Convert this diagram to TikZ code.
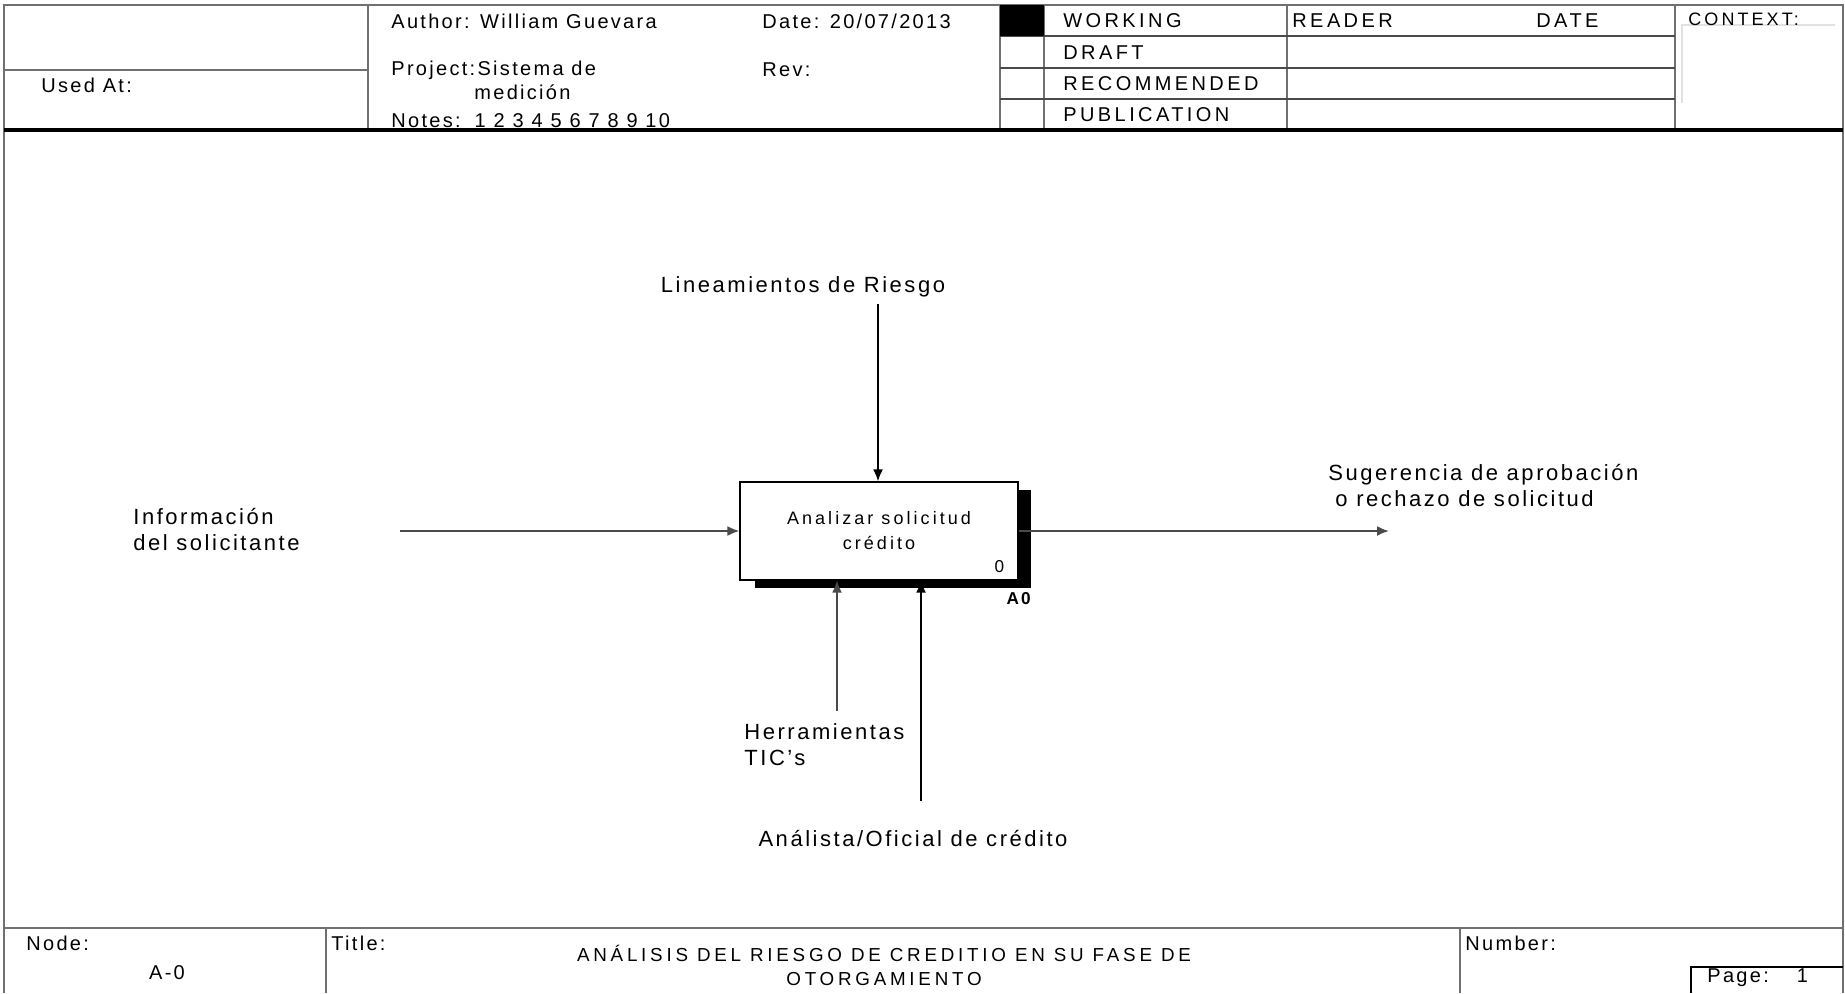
\documentclass[tikz,border=0pt]{standalone}
\usepackage{fontspec}
\setmainfont{Liberation Sans}
\newfontfamily\idefFont[LetterSpace=11.5]{Liberation Sans}
\newfontfamily\idefWide[LetterSpace=17]{Liberation Sans}
\newfontfamily\idefTitle[LetterSpace=20]{Liberation Sans}
\usepackage{tikz}
\usetikzlibrary{positioning, arrows.meta}
\definecolor{frameGray}{HTML}{707070}
\definecolor{lineGray}{HTML}{4A4A4A}
\definecolor{softGray}{HTML}{E2E2E2}

\begin{document}
\begin{tikzpicture}[
  x=0.5pt, y=-0.5pt,
  every node/.style={inner sep=0pt, text=black},
  hdr/.style={font=\idefFont\fontsize{10}{12}\selectfont, anchor=west},
  stat/.style={font=\idefWide\fontsize{10}{12}\selectfont, anchor=west},
  lbl/.style={font=\idefFont\fontsize{11}{13}\selectfont, align=left},
  tiny/.style={font=\idefFont\fontsize{8.6}{12}\selectfont},
  foot/.style={font=\idefFont\fontsize{10}{12}\selectfont},
  frm/.style={draw=frameGray, line width=0.8pt},
  rowline/.style={draw=lineGray, line width=0.8pt},
  act/.style={rectangle, draw=black, line width=0.6pt, fill=white,
              minimum width=139pt, minimum height=49pt, align=center,
              font=\idefWide\fontsize{9}{12.5}\selectfont},
  flow/.style={draw=lineGray, line width=1pt, -{Latex[length=6pt,width=5pt]}},
]
  \useasboundingbox (0,0) rectangle (1845,993);

  % form frame and header grid
  \draw[frm] (4,993) -- (4,5) -- (1843,5) -- (1843,993);
  \draw[frm] (4,70) -- (368,70);
  \foreach \xx in {368,1000,1044,1287,1675}
    \draw[frm] (\xx,5) -- (\xx,130);
  \foreach \yy in {36,68,99}
    \draw[rowline] (1000,\yy) -- (1675,\yy);
  \fill[black] (1000,5) rectangle (1044,36);
  \draw[softGray, line width=1pt] (1682,103) -- (1682,25) -- (1835,25);
  \draw[black, line width=1.6pt] (4,130) -- (1843,130);

  \node[hdr] (usedAt) at (41,85) {Used At:};
  \node[hdr] (author) at (391,21) {Author: William Guevara};
  \node[hdr] (date) at (762,21) {Date: 20/07/2013};
  \node[hdr] (project) at (391,70) {Project:Sistema de};
  \node[hdr] (project2) at (474,92) {medición};
  \node[hdr] (rev) at (762,70) {Rev:};
  \node[hdr] (notes) at (391,121) {Notes:\hspace{7pt}1 2 3 4 5 6 7 8 9 10};

  \node[stat] (working) at (1063,21) {WORKING};
  \node[stat] (draft) at (1063,53) {DRAFT};
  \node[stat] (recom) at (1063,84) {RECOMMENDED};
  \node[stat] (publ) at (1063,115) {PUBLICATION};
  \node[stat] (reader) at (1292,21) {READER};
  \node[stat] (rdate) at (1536,21) {DATE};
  \node[stat, font=\idefWide\fontsize{9}{11}\selectfont] (context) at (1688,19) {CONTEXT:};

  % activity box with its shadow
  \fill[black] (1018,490) rectangle (1031,588);
  \fill[black] (755,580) rectangle (1031,588);

  \coordinate (ctrlS) at (878,304);
  \coordinate (inS) at (400,531);
  \coordinate (outE) at (1389,531);
  \coordinate (m1S) at (837,711);
  \coordinate (m2S) at (921,801);

  \node[act] (A0) at (879,531) {Analizar solicitud\\crédito};
  \node[tiny, above left=4pt and 7pt of A0.south east, anchor=south east] (boxNum) {0};
  \node[tiny, font=\idefFont\bfseries\fontsize{8.6}{12}\selectfont, anchor=north east]
        (boxRef) at (1031,592) {A0};

  \draw[flow, draw=black] (ctrlS) -- (ctrlS |- A0.north);
  \draw[flow] (inS) -- (A0.west);
  \draw[flow] (A0.east) -- (outE);
  \draw[flow] (m1S) -- (m1S |- A0.south);
  \draw[flow, draw=black] (m2S) -- (m2S |- A0.south);

  \node[lbl, anchor=center] (ctrl) at (803,287) {Lineamientos de Riesgo};
  \node[lbl, anchor=west] (inp) at (133,529) {Información\\del solicitante};
  \node[lbl, anchor=west] (out) at (1328,485) {Sugerencia de aprobación\\\hspace{3.5pt}o rechazo de solicitud};
  \node[lbl, anchor=west] (mech1) at (744,745) {Herramientas\\TIC’s};
  \node[lbl, anchor=center] (mech2) at (913,838) {Análista/Oficial de crédito};

  % footer
  \draw[frm] (4,928) -- (1843,928);
  \draw[frm] (326,928) -- (326,993);
  \draw[frm] (1460,928) -- (1460,993);
  \draw[black, line width=0.8pt] (1691,993) -- (1691,967) -- (1843,967);

  \node[foot, anchor=west] (nodeLbl) at (26,943) {Node:};
  \node[foot] (nodeVal) at (167,973) {A-0};
  \node[foot, anchor=west] (titleLbl) at (331,943) {Title:};
  \node[align=center, font=\idefTitle\fontsize{9.4}{12}\selectfont] (title) at (884,965)
        {ANÁLISIS DEL RIESGO DE CREDITIO EN SU FASE DE\\OTORGAMIENTO};
  \node[foot, anchor=west] (numLbl) at (1465,943) {Number:};
  \node[foot, anchor=west] (page) at (1707,978) {Page:\hspace{14pt}1};
\end{tikzpicture}
\end{document}
